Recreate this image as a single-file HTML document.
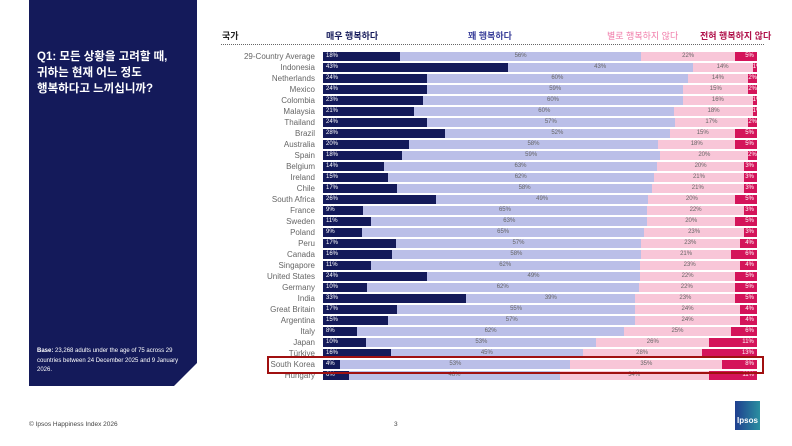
<!DOCTYPE html>
<html><head><meta charset="utf-8"><style>
body{margin:0;width:792px;height:446px;background:#fff;position:relative;overflow:hidden;font-family:"Liberation Sans","Noto Sans CJK KR",sans-serif;}
.panel{position:absolute;left:29px;top:0;width:168px;height:386px;background:#141a5a;clip-path:polygon(0 0,100% 0,100% 363px,145px 100%,0 100%);}
.q{position:absolute;left:37px;top:49px;color:#fff;font-weight:bold;font-size:11.5px;line-height:16px;}
.base{position:absolute;left:37px;top:347px;color:#fff;font-size:6px;line-height:9.5px;width:155px;}
.h{position:absolute;top:29px;font-size:9px;font-weight:bold;}
.dots{position:absolute;left:221px;top:44px;width:543px;border-top:1px dotted #666;}
.lab{position:absolute;left:210px;width:105px;text-align:right;font-size:8px;color:#666;line-height:11px;}
.bar{position:absolute;left:323px;width:434px;height:9px;display:flex;}
.bar div{height:9px;font-size:6px;line-height:9px;white-space:nowrap;overflow:visible;}
.s0{background:#141a5a;color:#fff;padding-left:3px;box-sizing:border-box;}
.s1{background:#bbbfe8;color:#666;text-align:center;}
.s2{background:#f8c6d8;color:#666;text-align:center;}
.s3{background:#d4145a;color:#fff;text-align:right;padding-right:3px;box-sizing:border-box;}
</style></head><body>
<div class="panel"></div>
<div class="q">Q1: 모든 상황을 고려할 때,<br>귀하는 현재 어느 정도<br>행복하다고 느끼십니까?</div>
<div class="base"><b>Base:</b> 23,268 adults under the age of 75 across 29 countries between 24 December 2025 and 9 January 2026.</div>
<div class="h" style="left:222px;color:#222">국가</div>
<div class="h" style="left:326px;color:#141a5a">매우 행복하다</div>
<div class="h" style="left:468px;color:#3a3f9a">꽤 행복하다</div>
<div class="h" style="left:607px;color:#f07aa8;font-weight:normal">별로 행복하지 않다</div>
<div class="h" style="left:700px;color:#b0104a">전혀 행복하지 않다</div>
<div class="dots"></div>
<div id="rows"></div>
<div style="position:absolute;left:267px;top:356px;width:493px;height:14px;border:2px solid #a01010;"></div>
<div style="position:absolute;left:29px;top:421px;font-size:6.5px;color:#444">© Ipsos Happiness Index 2026</div>
<div style="position:absolute;left:394px;top:421px;font-size:6.5px;color:#444">3</div>
<div style="position:absolute;left:735px;top:401px;width:25px;height:29px;background:linear-gradient(90deg,#1f3f8f,#2a8fa0);color:#fff;font-size:8px;font-weight:bold;text-align:center;line-height:40px;">Ipsos</div>
<script>
var d=[["29-Country Average",18,56,22,5],["Indonesia",43,43,14,1],["Netherlands",24,60,14,2],["Mexico",24,59,15,2],["Colombia",23,60,16,1],["Malaysia",21,60,18,1],["Thailand",24,57,17,2],["Brazil",28,52,15,5],["Australia",20,58,18,5],["Spain",18,59,20,2],["Belgium",14,63,20,3],["Ireland",15,62,21,3],["Chile",17,58,21,3],["South Africa",26,49,20,5],["France",9,65,22,3],["Sweden",11,63,20,5],["Poland",9,65,23,3],["Peru",17,57,23,4],["Canada",16,58,21,6],["Singapore",11,62,23,4],["United States",24,49,22,5],["Germany",10,62,22,5],["India",33,39,23,5],["Great Britain",17,55,24,4],["Argentina",15,57,24,4],["Italy",8,62,25,6],["Japan",10,53,26,11],["Türkiye",16,45,28,13],["South Korea",4,53,35,8],["Hungary",6,48,34,11]];
var h="";
d.forEach(function(r,i){var y=52+i*11;var s=r[1]+r[2]+r[3]+r[4];
h+='<div class="lab" style="top:'+(y-1)+'px">'+r[0]+'</div><div class="bar" style="top:'+y+'px">';
for(var k=0;k<4;k++){var w=r[k+1]/s*434;h+='<div class="s'+k+'" style="width:'+w.toFixed(1)+'px">'+r[k+1]+'%</div>';}
h+='</div>';});
document.getElementById("rows").innerHTML=h;
</script>
</body></html>
